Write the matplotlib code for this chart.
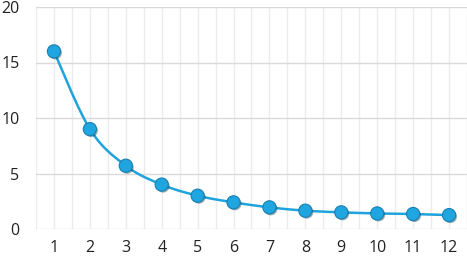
import numpy as np
import matplotlib
matplotlib.use("Agg")
import matplotlib.pyplot as plt
import matplotlib.patheffects as pe

x_values = [1, 2, 3, 4, 5, 6, 7, 8, 9, 10, 11, 12]
y_values = [16.0, 9.0, 5.7, 4.0, 3.0, 2.4, 1.95, 1.65, 1.5, 1.4, 1.35, 1.25]
y_ticks = [0, 5, 10, 15, 20]

def smooth(xs, ys, n=20):
    xs = np.asarray(xs, float); ys = np.asarray(ys, float)
    px = np.concatenate([[xs[0]], xs, [xs[-1]]])
    py = np.concatenate([[ys[0]], ys, [ys[-1]]])
    ox, oy = [], []
    for i in range(1, len(px)-2):
        t = np.linspace(0, 1, n, endpoint=(i == len(px)-3))
        for arr, out in ((px, ox), (py, oy)):
            p0, p1, p2, p3 = arr[i-1], arr[i], arr[i+1], arr[i+2]
            c1 = p1 + (p2 - p0) / 6.0
            c2 = p2 - (p3 - p1) / 6.0
            out.extend((1-t)**3*p1 + 3*(1-t)**2*t*c1 + 3*(1-t)*t**2*c2 + t**3*p2)
    return np.array(ox), np.array(oy)

plt.rcParams['font.family'] = ['Open Sans', 'DejaVu Sans']
fig = plt.figure(figsize=(4.67, 2.59), dpi=100)
ax = fig.add_axes([36/467, 30/259, 431/467, 222/259])

sx, sy = smooth(x_values, y_values)
ax.plot(sx, sy, color='#1fa3dc', lw=1.8, zorder=3)
ax.plot(x_values, y_values, linestyle='none', marker='o', markersize=9.5,
        markerfacecolor='#1fa5e0', markeredgecolor='#1a7fb0', markeredgewidth=0.8, zorder=4,
        path_effects=[pe.SimplePatchShadow(offset=(1, -1), alpha=0.4), pe.Normal()])

ax.set_xlim(0.5, 12.5)
ax.set_ylim(0, 20)
ax.set_yticks(y_ticks)
ax.set_xticks(x_values)
ax.set_xticks(np.arange(0.5, 12.6, 1.0), minor=True)
ax.grid(axis='y', which='major', color='#d9d9d9', lw=1.0, zorder=0)
ax.grid(axis='x', which='both', color='#ececec', lw=1.0, zorder=0)
for s in ax.spines.values():
    s.set_visible(False)
ax.tick_params(which='both', length=0, labelsize=11.5, colors='#222222')
ax.tick_params(axis='y', pad=12)
ax.tick_params(axis='x', pad=8)
fig.savefig('out.png', dpi=100)
